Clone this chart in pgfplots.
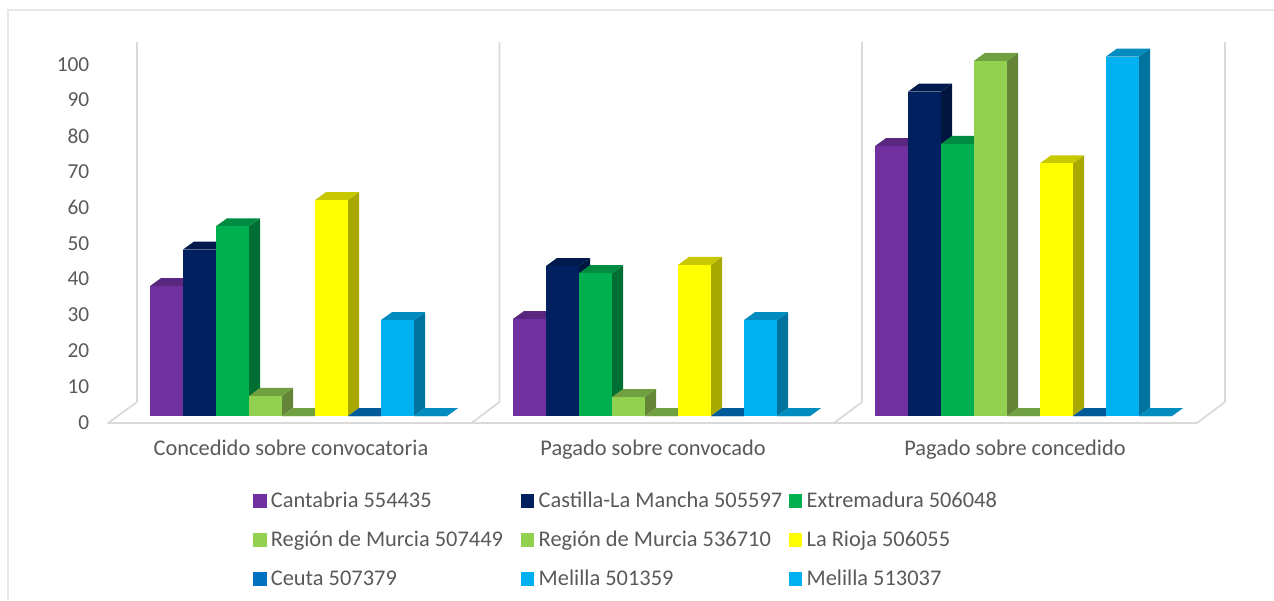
\documentclass[border=0pt]{standalone}
\usepackage{pgfplots}
\pgfplotsset{compat=1.18}
\usepackage{fontspec}
\setmainfont{Carlito}

\definecolor{txt}{HTML}{595959}
\definecolor{wall}{HTML}{D9D9D9}
\definecolor{frame}{HTML}{E7E7E7}
% front, side and top of each bar
\definecolor{purF}{HTML}{7030A0}\definecolor{purS}{HTML}{4A2069}\definecolor{purT}{HTML}{5A2780}
\definecolor{navF}{HTML}{002060}\definecolor{navS}{HTML}{001540}\definecolor{navT}{HTML}{001A4D}
\definecolor{greF}{HTML}{00B050}\definecolor{greS}{HTML}{006F33}\definecolor{greT}{HTML}{008C40}
\definecolor{lgrF}{HTML}{92D050}\definecolor{lgrS}{HTML}{648437}\definecolor{lgrT}{HTML}{70A040}
\definecolor{yelF}{HTML}{FFFF00}\definecolor{yelS}{HTML}{A8A800}\definecolor{yelT}{HTML}{C8C800}
\definecolor{ceuF}{HTML}{0070C0}\definecolor{ceuS}{HTML}{004A7F}\definecolor{ceuT}{HTML}{005A9A}
\definecolor{melF}{HTML}{00B0F0}\definecolor{melS}{HTML}{00739E}\definecolor{melT}{HTML}{008CBE}

% #1 left edge in px, #2 value, #3 colour prefix
\newcommand{\barthree}[3]{%
  \pgfmathsetmacro\xr{#1+33}%
  \pgfmathsetmacro\xbl{#1+11}%
  \pgfmathsetmacro\xbr{#1+44}%
  \pgfmathsetmacro\yb{#2+2.23}%
  \edef\doplot{%
    \noexpand\addplot[bar3d,fill=#3S] coordinates {(\xr,0)(\xbr,2.23)(\xbr,\yb)(\xr,#2)} -- cycle;
    \noexpand\addplot[bar3d,fill=#3T] coordinates {(#1,#2)(\xr,#2)(\xbr,\yb)(\xbl,\yb)} -- cycle;
    \noexpand\addplot[bar3d,fill=#3F] coordinates {(#1,0)(\xr,0)(\xr,#2)(#1,#2)} -- cycle;
  }\doplot
}

\begin{document}
\begin{tikzpicture}
\useasboundingbox (0,0) rectangle (955.5pt,450pt);
\begin{axis}[
    at={(0,0)}, anchor=south west,
    scale only axis, width=955.5pt, height=450pt,
    xmin=0, xmax=1274, ymin=-50, ymax=117.6,
    clip=false,
    axis line style={draw=none},
    major tick length=0pt,
    ytick={0,10,...,100},
    xtick={291,653,1015},
    xticklabels={Concedido sobre convocatoria,Pagado sobre convocado,Pagado sobre concedido},
    xticklabel style={font=\fontsize{16.8pt}{20pt}\selectfont, text=txt, anchor=center, yshift=112pt, text height=11pt, text depth=3pt},
    yticklabel style={font=\fontsize{16pt}{19pt}\selectfont, text=txt, anchor=east, xshift=70.5pt, yshift=-1pt},
    /pgf/number format/assume math mode=true,
    bar3d/.style={draw=none, forget plot, yshift=3.75pt},
    walls/.style={draw=wall, line width=1.3pt, forget plot, line join=round},
    legend columns=3,
    legend cell align=left,
    legend image code/.code={\fill[#1] (0pt,-3.95pt) rectangle (9.4pt,5.45pt);\path (13pt,0pt);},
    legend style={
      at={(axis cs:253,-19.98)}, anchor=north west, draw=none, fill=none,
      inner sep=0pt, outer sep=0pt, row sep=15.3pt,
      font=\fontsize{16.8pt}{20pt}\selectfont, text=txt,
      nodes={inner sep=0pt, text height=11pt, text depth=3pt, text width=187.5pt, align=flush left},
    },
]
% outer frame and chart walls
\addplot[draw=frame, line width=1.2pt, forget plot] coordinates {(8,-50)(8,114.8)(1274,114.8)};
\addplot[walls] coordinates {(137,105.9)(137,5.3)(108,-0.56)(1197,-0.56)(1225,5.3)(1225,105.9)};
\addplot[walls] coordinates {(499.5,105.9)(499.5,5.3)(471.5,-0.56)};
\addplot[walls] coordinates {(862,105.9)(862,5.3)(834,-0.56)};

% Concedido sobre convocatoria
\barthree{150}{36.3}{pur}
\barthree{183}{46.5}{nav}
\barthree{216}{53.0}{gre}
\barthree{249}{5.6}{lgr}
\barthree{282}{0}{lgr}
\barthree{315}{60.3}{yel}
\barthree{348}{0}{ceu}
\barthree{381}{26.8}{mel}
\barthree{414}{0}{mel}
% Pagado sobre convocado
\barthree{513}{27.1}{pur}
\barthree{546}{41.9}{nav}
\barthree{579}{39.9}{gre}
\barthree{612}{5.3}{lgr}
\barthree{645}{0}{lgr}
\barthree{678}{42.2}{yel}
\barthree{711}{0}{ceu}
\barthree{744}{26.8}{mel}
\barthree{777}{0}{mel}
% Pagado sobre concedido
\barthree{875}{75.4}{pur}
\barthree{908}{90.6}{nav}
\barthree{941}{76.0}{gre}
\barthree{974}{99.2}{lgr}
\barthree{1007}{0}{lgr}
\barthree{1040}{70.6}{yel}
\barthree{1073}{0}{ceu}
\barthree{1106}{100.4}{mel}
\barthree{1139}{0}{mel}

\addlegendimage{purF}\addlegendentry{Cantabria 554435}
\addlegendimage{navF}\addlegendentry{Castilla-La Mancha 505597}
\addlegendimage{greF}\addlegendentry{Extremadura 506048}
\addlegendimage{lgrF}\addlegendentry{Región de Murcia 507449}
\addlegendimage{lgrF}\addlegendentry{Región de Murcia 536710}
\addlegendimage{yelF}\addlegendentry{La Rioja 506055}
\addlegendimage{ceuF}\addlegendentry{Ceuta 507379}
\addlegendimage{melF}\addlegendentry{Melilla 501359}
\addlegendimage{melF}\addlegendentry{Melilla 513037}
\end{axis}
\end{tikzpicture}
\end{document}
